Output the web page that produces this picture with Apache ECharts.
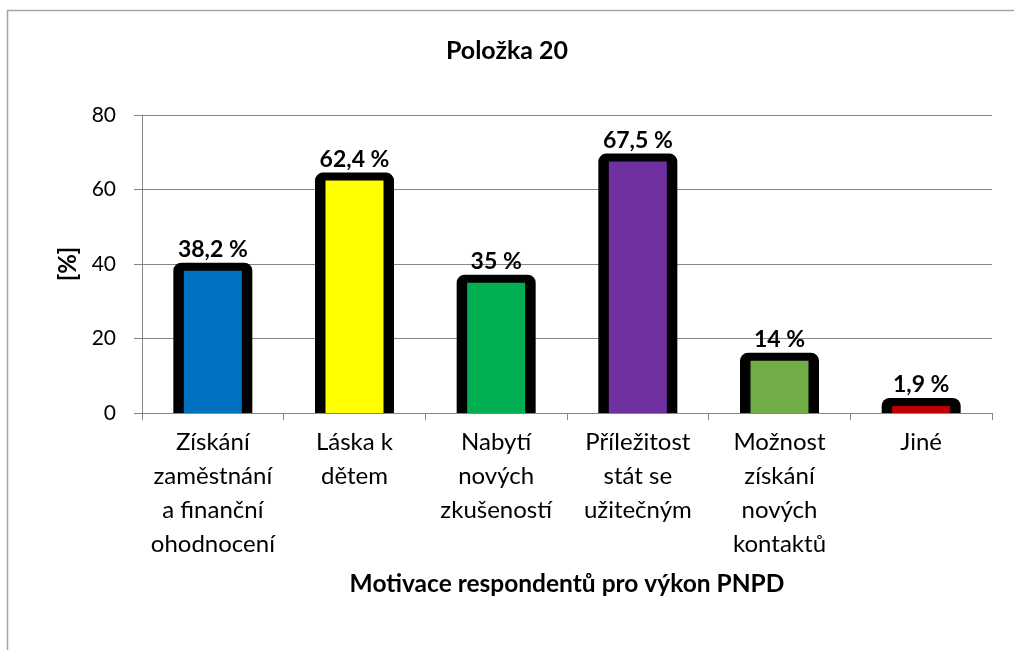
<!DOCTYPE html>
<html>
<head>
<meta charset="utf-8">
<title>Položka 20</title>
<script src="https://cdn.jsdelivr.net/npm/echarts@6/dist/echarts.min.js"></script>
<style>
  html, body { margin: 0; padding: 0; background: #fff; }
  #main { width: 1014px; height: 650px; }
</style>
</head>
<body>
<div id="main"></div>
<script>
// data
var categories = [
  "Získání\nzaměstnání\na finanční\nohodnocení",
  "Láska k\ndětem",
  "Nabytí\nnových\nzkušeností",
  "Příležitost\nstát se\nužitečným",
  "Možnost\nzískání\nnových\nkontaktů",
  "Jiné"
];
var values = [38.2, 62.4, 35, 67.5, 14, 1.9];
var barColors = ["#0070C0", "#FFFF00", "#00B050", "#7030A0", "#70AD47", "#C00000"];
var yTicks = [0, 20, 40, 60, 80];

var font = "Lato, 'Open Sans', sans-serif";
var chart = echarts.init(document.getElementById("main"));

function fmtPct(v) {
  return String(v).replace(".", ",") + " %";
}

// Excel style bar: thick black outline drawn outside the coloured fill
function renderBar(params, api) {
  var v = api.value(1);
  var top = api.coord([api.value(0), v]);
  var base = api.coord([api.value(0), 0]);
  var x = top[0];
  var h = base[1] - top[1];
  return {
    type: "group",
    children: [
      {
        type: "rect",
        shape: { x: x - 39.5, y: top[1] - 8, width: 79, height: h + 8, r: [8, 8, 0, 0] },
        style: { fill: "#000" }
      },
      {
        type: "rect",
        shape: { x: x - 29, y: top[1], width: 58, height: h },
        style: { fill: barColors[params.dataIndex] }
      },
      {
        type: "text",
        style: {
          text: fmtPct(v),
          x: x, y: top[1] - 21,
          align: "center", verticalAlign: "middle",
          fontFamily: font, fontSize: 23, fontWeight: "bold",
          fill: "#000"
        }
      }
    ]
  };
}

var option = {
  animation: false,
  backgroundColor: "#fff",
  textStyle: { fontFamily: font },
  title: {
    text: "Položka 20",
    left: "center",
    top: 33,
    textStyle: { fontFamily: font, fontSize: 25, fontWeight: "bold", color: "#000" }
  },
  // outer frame of the chart area
  graphic: [{
    type: "rect",
    left: 5, top: 8,
    shape: { width: 1030, height: 660 },
    style: { fill: "none", stroke: "#a6a6a6", lineWidth: 1.5 },
    silent: true
  }],
  grid: { left: 142, right: 22, top: 115, bottom: 237, containLabel: false },
  xAxis: {
    type: "category",
    data: categories,
    name: "Motivace respondentů pro výkon PNPD",
    nameLocation: "middle",
    nameGap: 159,
    nameTextStyle: { fontFamily: font, fontSize: 24.5, fontWeight: "bold", color: "#000" },
    axisLine: { show: true, lineStyle: { color: "#868686", width: 1 } },
    axisTick: { show: true, alignWithLabel: false, length: 7, lineStyle: { color: "#868686" } },
    axisLabel: {
      interval: 0,
      margin: 12,
      color: "#000",
      fontFamily: font,
      fontSize: 24,
      lineHeight: 34,
      align: "center"
    },
    z: 5
  },
  yAxis: {
    type: "value",
    min: yTicks[0],
    max: yTicks[yTicks.length - 1],
    interval: 20,
    name: "[%]",
    nameLocation: "middle",
    nameGap: 60,
    nameRotate: 90,
    nameTextStyle: { fontFamily: font, fontSize: 24, fontWeight: "bold", color: "#000" },
    axisLine: { show: true, lineStyle: { color: "#868686", width: 1 } },
    axisTick: { show: true, length: 8, lineStyle: { color: "#868686" } },
    axisLabel: { color: "#000", fontFamily: font, fontSize: 21, margin: 26 },
    splitLine: { show: true, lineStyle: { color: "#868686", width: 1 } }
  },
  series: [{
    type: "custom",
    renderItem: renderBar,
    clip: true,
    encode: { x: 0, y: 1 },
    data: values.map(function (v, i) { return [i, v]; })
  }]
};

chart.setOption(option);
</script>
</body>
</html>
